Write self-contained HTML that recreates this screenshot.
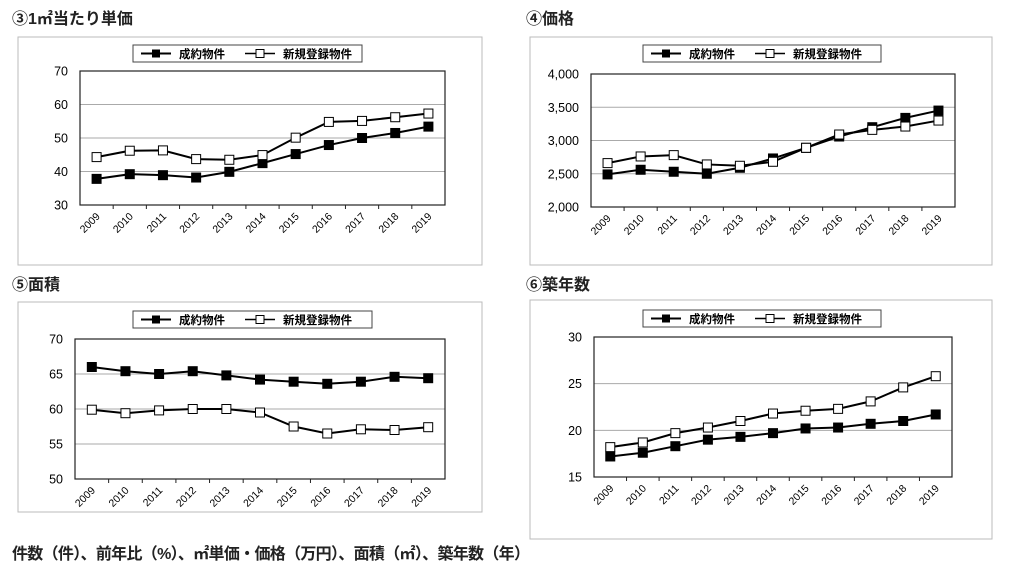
<!DOCTYPE html><html><head><meta charset="utf-8"><style>
body{margin:0;background:#fff;width:1024px;height:579px;overflow:hidden;font-family:"Liberation Sans","Noto Sans CJK JP",sans-serif}
</style></head><body>
<svg id="s" width="1024" height="579" xmlns="http://www.w3.org/2000/svg" font-family="Liberation Sans, Noto Sans CJK JP, sans-serif"></svg>
<script>
const s=document.getElementById('s');let h='';
const Y=[2009,2010,2011,2012,2013,2014,2015,2016,2017,2018,2019];
function chart(c){
 const {title,tx,ty,ox,oy,ow,oh,px,py,pw,ph,lx,ly,lw,min,max,step,fmt,a,b}=c;
 h+=`<text x="${tx}" y="${ty}" font-size="16" font-weight="bold" fill="#222">${title}</text>`;
 h+=`<rect x="${ox}" y="${oy}" width="${ow}" height="${oh}" fill="#fff" stroke="#bbb"/>`;
 h+=`<rect x="${lx}" y="${ly}" width="${lw}" height="17" fill="#fff" stroke="#444"/>`;
 h+=`<line x1="${lx+8}" x2="${lx+38}" y1="${ly+8.5}" y2="${ly+8.5}" stroke="#000" stroke-width="2"/><rect x="${lx+19}" y="${ly+4.5}" width="8" height="8" fill="#000"/>`;
 h+=`<text x="${lx+46}" y="${ly+13}" font-size="11.5" font-weight="bold">成約物件</text>`;
 h+=`<line x1="${lx+112}" x2="${lx+142}" y1="${ly+8.5}" y2="${ly+8.5}" stroke="#000" stroke-width="1.5"/><rect x="${lx+123}" y="${ly+4.5}" width="8" height="8" fill="#fff" stroke="#000"/>`;
 h+=`<text x="${lx+150}" y="${ly+13}" font-size="11.5" font-weight="bold">新規登録物件</text>`;
 const yv=v=>py+ph-(v-min)/(max-min)*ph;
 for(let v=min;v<=max+1e-9;v+=step){const y=yv(v);
  if(v>min&&v<max)h+=`<line x1="${px}" x2="${px+pw}" y1="${y}" y2="${y}" stroke="#aaa"/>`;
  h+=`<text x="${px-12}" y="${y+4.5}" font-size="12.5" text-anchor="end">${fmt?v.toLocaleString('en-US'):v}</text>`;}
 h+=`<rect x="${px}" y="${py}" width="${pw}" height="${ph}" fill="none" stroke="#222" stroke-width="1.2"/>`;
 const bw=pw/11;
 for(let i=0;i<11;i++){const x=px+bw*i;if(i>0)h+=`<line x1="${x}" x2="${x}" y1="${py+ph}" y2="${py+ph+4}" stroke="#222"/>`;
  const cx=px+bw*(i+0.5)+4;h+=`<text transform="translate(${cx},${py+ph+12}) rotate(-45)" font-size="10.5" text-anchor="end">${Y[i]}</text>`;}
 [[a,'#000'],[b,'#fff']].forEach(([d,f])=>{
  const pts=d.map((v,i)=>[px+bw*(i+0.5),yv(v)]);
  h+=`<polyline points="${pts.map(p=>p.join(',')).join(' ')}" fill="none" stroke="#000" stroke-width="2"/>`;
  pts.forEach(p=>h+=`<rect x="${p[0]-4.5}" y="${p[1]-4.5}" width="9" height="9" fill="${f}" stroke="#000" stroke-width="1"/>`);
 });
}
chart({title:'③1㎡当たり単価',tx:12,ty:24,ox:18,oy:37,ow:464,oh:228,px:80,py:71,pw:365,ph:134,lx:133,ly:45,lw:229,min:30,max:70,step:10,
 a:[37.8,39.2,38.9,38.2,39.9,42.5,45.2,47.9,50,51.5,53.4],b:[44.3,46.2,46.3,43.7,43.5,44.9,50.1,54.8,55.1,56.2,57.3]});
chart({title:'④価格',tx:526,ty:24,ox:530,oy:37,ow:462,oh:228,px:591,py:74,pw:364,ph:133,lx:643,ly:45,lw:238,min:2000,max:4000,step:500,fmt:1,
 a:[2490,2560,2530,2500,2590,2730,2890,3060,3200,3340,3450],b:[2660,2760,2780,2640,2620,2680,2890,3090,3160,3210,3300]});
chart({title:'⑤面積',tx:12,ty:290,ox:18,oy:302,ow:464,oh:210,px:75,py:339,pw:370,ph:140,lx:133,ly:311,lw:239,min:50,max:70,step:5,
 a:[66,65.4,65,65.4,64.8,64.2,63.9,63.6,63.9,64.6,64.4],b:[59.9,59.4,59.8,60,60,59.5,57.5,56.5,57.1,57,57.4]});
chart({title:'⑥築年数',tx:526,ty:290,ox:530,oy:300,ow:462,oh:239,px:594,py:337,pw:358,ph:140,lx:643,ly:310,lw:238,min:15,max:30,step:5,
 a:[17.2,17.6,18.3,19,19.3,19.7,20.2,20.3,20.7,21,21.7],b:[18.2,18.7,19.7,20.3,21,21.8,22.1,22.3,23.1,24.6,25.8]});
h+=`<text x="12" y="559" font-size="16" font-weight="bold" fill="#222" textLength="518">件数（件）、前年比（%）、㎡単価・価格（万円）、面積（㎡）、築年数（年）</text>`;
s.innerHTML=h;
</script></body></html>
